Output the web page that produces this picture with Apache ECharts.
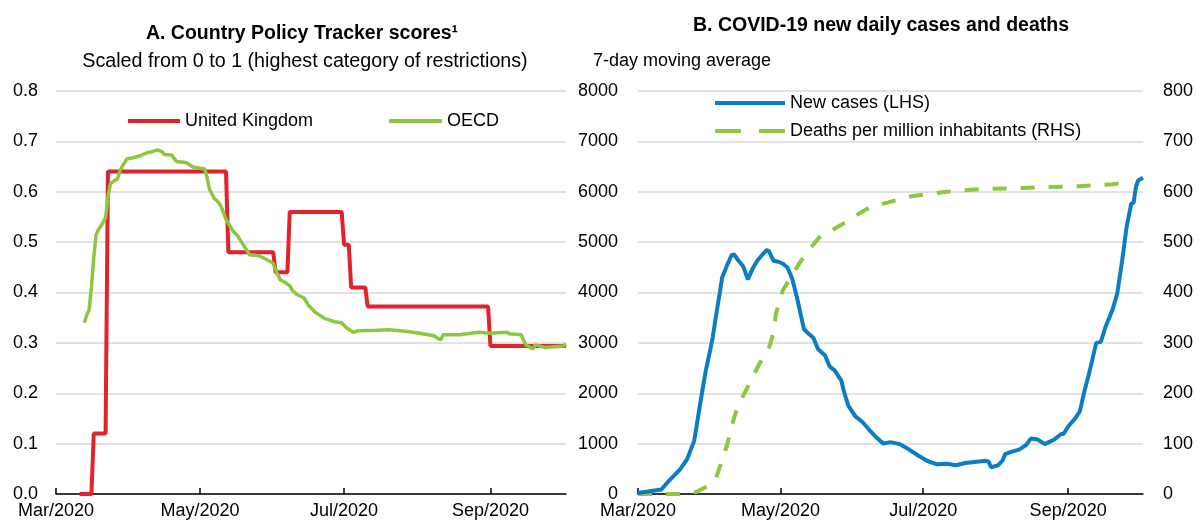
<!DOCTYPE html>
<html>
<head>
<meta charset="utf-8">
<script src="https://cdn.jsdelivr.net/npm/echarts@6/dist/echarts.min.js"></script>
<style>
  html, body { margin: 0; padding: 0; background: #fff; }
  #chart { width: 1196px; height: 523px; }
</style>
</head>
<body>
<div id="chart"></div>
<script>
// panel A: policy tracker scores (0..1)
var ukDates = ['2020-03-11','2020-03-16','2020-03-17','2020-03-22','2020-03-23','2020-05-12','2020-05-13',
  '2020-06-01','2020-06-02','2020-06-07','2020-06-08','2020-06-30','2020-07-01','2020-07-03','2020-07-04',
  '2020-07-10','2020-07-11','2020-08-31','2020-09-01','2020-10-03'];
var ukScores = [0,0,0.12,0.12,0.64,0.64,0.48,0.48,0.44,0.44,0.56,0.56,0.495,0.495,0.41,0.41,0.372,0.372,0.294,0.294];

var oecdDates = ['2020-03-13','2020-03-14','2020-03-15','2020-03-16','2020-03-17','2020-03-18','2020-03-19',
  '2020-03-20','2020-03-22','2020-03-23','2020-03-24','2020-03-25','2020-03-27','2020-03-28','2020-03-29',
  '2020-03-31','2020-04-03','2020-04-06','2020-04-09','2020-04-11','2020-04-13','2020-04-15','2020-04-16',
  '2020-04-19','2020-04-21','2020-04-25','2020-04-28','2020-05-03','2020-05-04','2020-05-05','2020-05-07',
  '2020-05-09','2020-05-10','2020-05-12','2020-05-15','2020-05-17','2020-05-19','2020-05-22','2020-05-26',
  '2020-05-29','2020-06-01','2020-06-02','2020-06-04','2020-06-06','2020-06-08','2020-06-09','2020-06-11',
  '2020-06-14','2020-06-16','2020-06-19','2020-06-23','2020-06-27','2020-06-30','2020-07-02','2020-07-05',
  '2020-07-07','2020-07-15','2020-07-20','2020-07-27','2020-08-02','2020-08-08','2020-08-10','2020-08-11',
  '2020-08-12','2020-08-19','2020-08-27','2020-09-01','2020-09-08','2020-09-09','2020-09-14','2020-09-16',
  '2020-09-19','2020-09-20','2020-09-24','2020-10-02','2020-10-03'];
var oecdScores = [0.34,0.355,0.365,0.41,0.47,0.515,0.525,
  0.532,0.548,0.59,0.615,0.62,0.625,0.64,0.65,
  0.665,0.668,0.672,0.678,0.68,0.683,0.679,0.674,
  0.673,0.66,0.658,0.649,0.645,0.628,0.605,0.587,
  0.578,0.57,0.545,0.522,0.512,0.497,0.475,0.473,
  0.466,0.458,0.445,0.425,0.42,0.413,0.405,0.396,
  0.389,0.374,0.36,0.348,0.342,0.34,0.33,0.321,
  0.324,0.325,0.326,0.323,0.319,0.314,0.308,0.306,
  0.316,0.316,0.321,0.319,0.321,0.318,0.316,0.296,
  0.288,0.296,0.291,0.294,0.298];

// panel B: new cases (LHS) and deaths per million (RHS)
var caseDates = ['2020-03-01','2020-03-11','2020-03-14','2020-03-19','2020-03-22','2020-03-25','2020-03-26',
  '2020-03-27','2020-03-29','2020-03-30','2020-04-01','2020-04-02','2020-04-03','2020-04-05','2020-04-06',
  '2020-04-08','2020-04-10','2020-04-11','2020-04-13','2020-04-15','2020-04-17','2020-04-19','2020-04-21',
  '2020-04-23','2020-04-25','2020-04-26','2020-04-28','2020-04-30','2020-05-02','2020-05-04','2020-05-06',
  '2020-05-08','2020-05-10','2020-05-11','2020-05-13','2020-05-15','2020-05-17','2020-05-20','2020-05-22',
  '2020-05-24','2020-05-27','2020-05-28','2020-05-30','2020-06-02','2020-06-05','2020-06-08','2020-06-11',
  '2020-06-14','2020-06-17','2020-06-21','2020-06-24','2020-06-29','2020-07-03','2020-07-07','2020-07-11',
  '2020-07-15','2020-07-19','2020-07-24','2020-07-28','2020-07-29','2020-07-30','2020-08-02','2020-08-04',
  '2020-08-05','2020-08-08','2020-08-11','2020-08-14','2020-08-16','2020-08-19','2020-08-22','2020-08-26',
  '2020-08-29','2020-08-30','2020-09-01','2020-09-04','2020-09-06','2020-09-08','2020-09-10','2020-09-13',
  '2020-09-15','2020-09-17','2020-09-20','2020-09-22','2020-09-24','2020-09-26','2020-09-28','2020-09-29',
  '2020-09-30','2020-10-01','2020-10-03'];
var newCases = [20,90,250,490,690,1050,1330,
  1620,2180,2450,2880,3120,3430,4000,4300,
  4530,4740,4760,4630,4520,4260,4470,4630,
  4740,4840,4820,4630,4610,4570,4490,4270,
  3900,3480,3270,3180,3100,2880,2750,2530,
  2460,2250,2050,1750,1540,1430,1270,1120,
  1000,1030,990,910,760,650,590,600,
  570,615,640,660,640,530,570,670,
  790,840,880,970,1100,1080,990,1080,
  1190,1190,1340,1500,1640,2050,2400,3000,
  3020,3320,3660,3980,4600,5300,5770,5780,
  6100,6230,6280];

var deathDates = ['2020-03-01','2020-03-19','2020-03-26','2020-03-30','2020-04-03','2020-04-05','2020-04-08',
  '2020-04-11','2020-04-13','2020-04-16','2020-04-19','2020-04-22','2020-04-26','2020-04-28','2020-04-29',
  '2020-05-02','2020-05-05','2020-05-09','2020-05-13','2020-05-18','2020-05-23','2020-05-29','2020-06-04',
  '2020-06-09','2020-06-16','2020-06-26','2020-07-11','2020-07-25','2020-08-08','2020-08-22','2020-09-06',
  '2020-09-20','2020-09-26'];
var deathsPerMillion = [0,0,4,14,26,54,96,
  150,178,204,232,259,290,320,358,
  405,427,458,484,512,524,540,558,
  571,579,591,600,605,607,609,611,
  615,618];

var tickDates = ['2020-03-01','2020-05-01','2020-07-01','2020-09-01'];
var tickLabels = ['Mar/2020','May/2020','Jul/2020','Sep/2020'];
var startDate = '2020-03-01', endDate = '2020-10-03';

var FONT = "'Liberation Sans', Arial, sans-serif";
var RED = '#E1232B', GREEN = '#8DC63F', BLUE = '#0B7DC2';

// x axis is a value axis counted in days since 1 March 2020
function day(s) {
  return Math.round((Date.UTC(+s.slice(0, 4), +s.slice(5, 7) - 1, +s.slice(8, 10)) -
    Date.UTC(2020, 2, 1)) / 86400000);
}
function zip(dates, vals) {
  return dates.map(function (d, i) { return [day(d), vals[i]]; });
}
var tickDays = tickDates.map(day);

function xAxis(gridIndex) {
  return {
    type: 'value', gridIndex: gridIndex,
    min: day(startDate), max: day(endDate),
    splitLine: { show: false },
    axisLine: { lineStyle: { color: '#000', width: 1.5 } },
    axisTick: { show: true, inside: true, length: 6, customValues: tickDays,
      lineStyle: { color: '#000', width: 1.5 } },
    axisLabel: {
      customValues: tickDays, color: '#000', fontFamily: FONT, fontSize: 18, margin: 8,
      formatter: function (v) { return tickLabels[tickDays.indexOf(v)] || ''; }
    }
  };
}

var legendText = { fontFamily: FONT, fontSize: 18, color: '#000' };

var chart = echarts.init(document.getElementById('chart'));
chart.setOption({
  animation: false,
  title: [
    { text: 'A. Country Policy Tracker scores¹', left: 302, top: 24, textAlign: 'center', padding: 0,
      textStyle: { fontFamily: FONT, fontSize: 19.5, fontWeight: 'bold', color: '#000' } },
    { text: 'Scaled from 0 to 1 (highest category of restrictions)', left: 305, top: 52, textAlign: 'center', padding: 0,
      textStyle: { fontFamily: FONT, fontSize: 19.7, fontWeight: 'normal', color: '#000' } },
    { text: 'B. COVID-19 new daily cases and deaths', left: 881, top: 16, textAlign: 'center', padding: 0,
      textStyle: { fontFamily: FONT, fontSize: 19.5, fontWeight: 'bold', color: '#000' } },
    { text: '7-day moving average', left: 593, top: 52, padding: 0,
      textStyle: { fontFamily: FONT, fontSize: 18, fontWeight: 'normal', color: '#000' } }
  ],
  legend: [
    { data: ['United Kingdom'], left: 126, top: 112, padding: 0, itemWidth: 52, itemHeight: 18,
      textStyle: legendText, lineStyle: { width: 4 }, itemStyle: { opacity: 0 } },
    { data: ['OECD'], left: 387, top: 112, padding: 0, itemWidth: 53, itemHeight: 18,
      textStyle: legendText, lineStyle: { width: 4 }, itemStyle: { opacity: 0 } },
    { data: [
        { name: 'New cases (LHS)' },
        { name: 'Deaths per million inhabitants (RHS)', lineStyle: { type: [26, 18] } }
      ],
      orient: 'vertical', left: 713, top: 94, padding: 0, itemWidth: 70, itemHeight: 18, itemGap: 10,
      textStyle: legendText, lineStyle: { width: 4 }, itemStyle: { opacity: 0 } }
  ],
  grid: [
    { left: 56, right: 630, top: 91, bottom: 29 },
    { left: 638, right: 53, top: 91, bottom: 29 }
  ],
  xAxis: [xAxis(0), xAxis(1)],
  yAxis: [
    { type: 'value', gridIndex: 0, min: 0, max: 0.8, interval: 0.1,
      axisLine: { show: false }, axisTick: { show: false },
      splitLine: { lineStyle: { color: '#D9D9D9', width: 1.5 } },
      axisLabel: { color: '#000', fontFamily: FONT, fontSize: 18, margin: 18,
        formatter: function (v) { return v.toFixed(1); } } },
    { type: 'value', gridIndex: 1, min: 0, max: 8000, interval: 1000,
      axisLine: { show: false }, axisTick: { show: false },
      splitLine: { lineStyle: { color: '#D9D9D9', width: 1.5 } },
      axisLabel: { color: '#000', fontFamily: FONT, fontSize: 18, margin: 20,
        formatter: function (v) { return String(v); } } },
    { type: 'value', gridIndex: 1, position: 'right', min: 0, max: 800, interval: 100,
      axisLine: { show: false }, axisTick: { show: false }, splitLine: { show: false },
      axisLabel: { color: '#000', fontFamily: FONT, fontSize: 18, margin: 20,
        formatter: function (v) { return String(v); } } }
  ],
  series: [
    { name: 'United Kingdom', type: 'line', xAxisIndex: 0, yAxisIndex: 0, symbol: 'none',
      data: zip(ukDates, ukScores), color: RED, lineStyle: { color: RED, width: 4 }, z: 3 },
    { name: 'OECD', type: 'line', xAxisIndex: 0, yAxisIndex: 0, symbol: 'none',
      data: zip(oecdDates, oecdScores), color: GREEN, lineStyle: { color: GREEN, width: 3.5 }, z: 4 },
    { name: 'New cases (LHS)', type: 'line', xAxisIndex: 1, yAxisIndex: 1, symbol: 'none',
      data: zip(caseDates, newCases), color: BLUE, lineStyle: { color: BLUE, width: 4 }, z: 4 },
    { name: 'Deaths per million inhabitants (RHS)', type: 'line', xAxisIndex: 1, yAxisIndex: 2, symbol: 'none',
      data: zip(deathDates, deathsPerMillion), color: GREEN,
      lineStyle: { color: GREEN, width: 4, type: [14, 14] }, z: 3 }
  ]
});
</script>
</body>
</html>
